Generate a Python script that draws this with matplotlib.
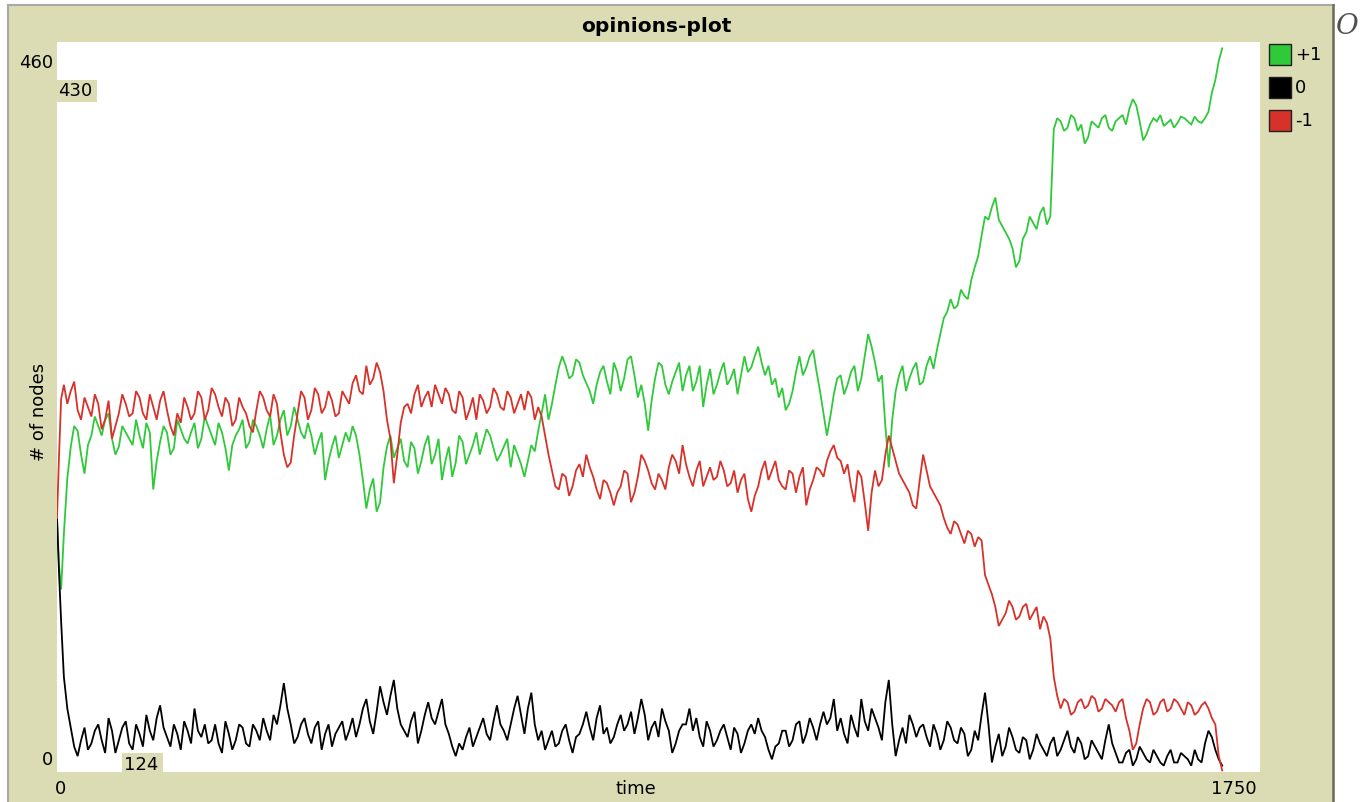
import numpy as np
import matplotlib.pyplot as plt
from matplotlib.patches import Rectangle
from matplotlib.lines import Line2D

# ---- data ----
# samples on the 10-tick grid (plus the start-up transient and the last tick)
time_main = np.concatenate([[0, 3, 6], np.arange(10, 1700, 10), [1695]])
# in-between samples at ticks 15, 25, ... 1685
time_mid = np.arange(15, 1690, 10)

plus_one_main = [
    160, 130, 115,
    150, 205, 215, 188, 212, 218, 222, 210, 205, 214,
    206, 212, 220, 178, 208, 214, 204, 216, 207, 220,
    210, 218, 206, 214, 190, 212, 222, 208, 218, 204,
    225, 212, 228, 218, 222, 210, 212, 208, 184, 205,
    198, 214, 218, 200, 166, 185, 170, 205, 198, 210,
    192, 204, 196, 212, 200, 184, 205, 195, 208, 200,
    214, 208, 212, 196, 205, 192, 200, 186, 206, 215,
    238, 232, 255, 256, 250, 258, 245, 232, 252, 246,
    258, 240, 260, 250, 244, 215, 248, 256, 238, 252,
    240, 256, 246, 230, 254, 244, 258, 248, 238, 262,
    255, 268, 250, 244, 236, 228, 240, 262, 255, 266,
    240, 212, 238, 250, 244, 256, 248, 276, 258, 250,
    192, 240, 256, 248, 258, 246, 262, 266, 286, 298,
    294, 300, 310, 325, 350, 356, 348, 340, 330, 322,
    340, 346, 352, 345, 405, 410, 406, 412, 408, 400,
    408, 412, 406, 410, 414, 418, 420, 398, 408, 410,
    407, 411, 409, 412, 408, 410, 412, 428, 448,
    456,
]
plus_one_mid = [
    185, 218, 200, 206, 224, 212, 226, 200, 218, 210,
    222, 204, 214, 196, 218, 200, 222, 210, 214, 204,
    224, 212, 220, 204, 206, 216, 204, 222, 212, 216,
    206, 222, 212, 230, 214, 220, 200, 214, 196, 212,
    206, 208, 212, 184, 178, 164, 192, 212, 204, 196,
    208, 188, 206, 194, 210, 196, 186, 212, 194, 206,
    200, 216, 204, 200, 210, 206, 194, 196, 202, 226,
    222, 244, 262, 248, 260, 250, 240, 244, 256, 238,
    252, 248, 262, 236, 232, 234, 258, 244, 246, 258,
    250, 240, 256, 244, 238, 252, 244, 254, 250, 252,
    262, 258, 256, 248, 242, 232, 252, 250, 262, 252,
    226, 224, 248, 238, 252, 240, 262, 268, 246, 218,
    222, 250, 240, 254, 244, 256, 254, 276, 290, 292,
    304, 298, 318, 338, 348, 362, 344, 336, 318, 336,
    350, 342, 356, 350, 412, 404, 414, 404, 396, 410,
    406, 414, 404, 412, 408, 424, 410, 402, 412, 414,
    409, 406, 413, 410, 413, 409, 416, 436,
]

zero_main = [
    160, 125, 95,
    60, 28, 10, 28, 18, 30, 12, 26, 20, 32,
    14, 24, 36, 20, 42, 22, 30, 14, 26, 40,
    22, 18, 30, 12, 24, 20, 28, 16, 26, 34,
    20, 30, 56, 30, 22, 34, 18, 32, 24, 16,
    28, 20, 34, 30, 46, 24, 54, 36, 58, 30,
    22, 38, 26, 44, 30, 46, 24, 10, 14, 28,
    22, 34, 20, 42, 26, 30, 48, 24, 50, 20,
    14, 26, 18, 30, 12, 24, 38, 20, 42, 28,
    22, 36, 30, 24, 46, 20, 32, 40, 26, 18,
    30, 40, 34, 16, 26, 20, 30, 14, 24, 18,
    30, 34, 22, 8, 18, 26, 20, 32, 24, 28,
    30, 30, 46, 34, 18, 28, 46, 26, 34, 20,
    58, 10, 28, 36, 22, 30, 16, 24, 20, 28,
    18, 24, 14, 20, 50, 6, 24, 16, 22, 12,
    20, 14, 18, 10, 22, 14, 26, 12, 18, 10,
    16, 8, 30, 12, 6, 14, 8, 12, 6, 10,
    4, 14, 6, 10, 4, 8, 18, 22, 8,
    4,
]
zero_mid = [
    40, 16, 20, 14, 26, 20, 34, 12, 28, 18,
    30, 16, 26, 34, 28, 16, 24, 32, 18, 26,
    30, 20, 18, 32, 14, 30, 18, 30, 20, 26,
    36, 42, 40, 18, 30, 24, 28, 14, 30, 24,
    32, 26, 22, 40, 32, 38, 44, 48, 40, 26,
    32, 18, 36, 34, 38, 30, 16, 18, 22, 16,
    28, 24, 32, 30, 20, 40, 36, 40, 30, 26,
    20, 16, 26, 20, 22, 30, 28, 34, 24, 18,
    30, 26, 38, 34, 36, 28, 22, 32, 12, 26,
    30, 26, 22, 32, 16, 26, 22, 28, 12, 26,
    24, 26, 14, 16, 26, 16, 30, 18, 34, 20,
    38, 34, 26, 24, 36, 22, 32, 40, 28, 44,
    30, 20, 18, 30, 28, 22, 30, 14, 32, 20,
    28, 10, 26, 36, 30, 16, 10, 28, 14, 22,
    8, 24, 14, 18, 10, 20, 16, 22, 8, 20,
    12, 20, 18, 6, 12, 4, 16, 8, 14, 6,
    10, 6, 12, 8, 14, 6, 26, 14,
]

minus_one_main = [
    160, 200, 235,
    244, 240, 228, 236, 224, 232, 222, 210, 226, 232,
    226, 236, 222, 230, 234, 228, 212, 220, 230, 226,
    236, 228, 238, 224, 232, 222, 230, 218, 228, 236,
    224, 232, 200, 195, 226, 236, 228, 238, 230, 234,
    226, 236, 245, 240, 256, 248, 252, 222, 182, 220,
    232, 238, 230, 240, 244, 232, 238, 226, 236, 228,
    222, 234, 230, 238, 228, 236, 232, 228, 236, 230,
    212, 190, 178, 186, 180, 194, 200, 186, 172, 182,
    168, 180, 188, 176, 200, 190, 178, 184, 192, 196,
    206, 186, 190, 180, 192, 186, 190, 182, 176, 188,
    164, 180, 196, 190, 184, 178, 188, 186, 168, 184,
    190, 196, 206, 196, 194, 170, 186, 152, 190, 184,
    212, 196, 184, 176, 166, 200, 180, 172, 160, 150,
    156, 144, 150, 148, 124, 112, 92, 100, 104, 98,
    106, 100, 90, 94, 60, 40, 44, 38, 46, 42,
    46, 40, 44, 38, 46, 26, 18, 40, 44, 38,
    46, 40, 44, 36, 42, 38, 44, 34, 10,
    1,
]
minus_one_mid = [
    232, 246, 222, 230, 238, 216, 234, 218, 238, 224,
    240, 226, 238, 222, 240, 218, 226, 236, 222, 240,
    222, 242, 230, 236, 218, 236, 226, 214, 240, 228,
    238, 214, 192, 212, 240, 222, 242, 226, 240, 224,
    240, 232, 250, 238, 244, 258, 240, 210, 200, 230,
    226, 244, 236, 230, 238, 242, 228, 240, 222, 236,
    238, 226, 242, 230, 240, 226, 238, 240, 222, 224,
    200, 180, 188, 174, 190, 186, 192, 178, 184, 176,
    176, 190, 170, 186, 196, 182, 188, 178, 200, 188,
    194, 180, 196, 186, 184, 196, 180, 190, 184, 172,
    174, 190, 184, 196, 180, 190, 176, 192, 178, 192,
    186, 202, 198, 188, 180, 190, 170, 176, 180, 200,
    204, 188, 180, 168, 184, 190, 176, 168, 154, 158,
    150, 152, 142, 146, 118, 104, 96, 108, 96, 104,
    96, 104, 98, 84, 48, 46, 36, 44, 40, 48,
    38, 46, 42, 44, 34, 14, 30, 46, 36, 44,
    38, 46, 40, 44, 36, 42, 40, 30,
]

pen_names = ["+1", "0", "-1"]
x_max = 1750
y_max = 460
cursor_y = "430"
cursor_x = "124"

GREEN = "#2fc93a"
RED = "#d7322a"
BLACK = "#000000"
BEIGE = "#dcdcb4"
pen_colors = [GREEN, BLACK, RED]

# put the two sets of samples in tick order
time = np.concatenate([time_main, time_mid])
order = np.argsort(time, kind="stable")
time = time[order]
series = [
    np.concatenate([plus_one_main, plus_one_mid])[order],
    np.concatenate([zero_main, zero_mid])[order],
    np.concatenate([minus_one_main, minus_one_mid])[order],
]

W, H = 1367, 802


def fx(x):
    return x / W


def fy(y):
    return 1 - y / H


fig = plt.figure(figsize=(W / 100, H / 100), dpi=100)
fig.patch.set_facecolor("white")

# widget panel and its border
fig.patches.append(Rectangle((fx(9), 0), fx(1333) - fx(9), fy(6),
                             transform=fig.transFigure, facecolor=BEIGE,
                             edgecolor="none", zorder=-10))
fig.add_artist(Line2D([fx(8), fx(1334)], [fy(5), fy(5)], color="#a8a8a8", lw=1.5))
fig.add_artist(Line2D([fx(8), fx(8)], [fy(5), 0], color="#a8a8a8", lw=1.5))
fig.add_artist(Line2D([fx(1333), fx(1333)], [fy(5), 0], color="#6a6a5a", lw=1.8))

# plotting area
ax = fig.add_axes([fx(57), fy(772), fx(1260) - fx(57), fy(42) - fy(772)])
ax.set_facecolor("white")
for s in ax.spines.values():
    s.set_visible(False)
ax.set_xticks([])
ax.set_yticks([])
ax.set_xlim(0, x_max)
ax.set_ylim(0, y_max)

for vals, col in zip(series, pen_colors):
    ax.plot(time, vals, color=col, lw=1.3, solid_joinstyle="miter")

fs = 13
fig.text(fx(656), fy(27), "opinions-plot", weight="bold", fontsize=14.5,
         ha="center", va="center")
fig.text(fx(53), fy(63), str(y_max), fontsize=fs, ha="right", va="center")
fig.text(fx(53), fy(760), "0", fontsize=fs, ha="right", va="center")
fig.text(fx(55), fy(789), "0", fontsize=fs, ha="left", va="center")
fig.text(fx(1257), fy(789), str(x_max), fontsize=fs, ha="right", va="center")
fig.text(fx(636), fy(789), "time", fontsize=fs, ha="center", va="center")
fig.text(fx(39), fy(412), "# of nodes", fontsize=fs, rotation=90,
         ha="center", va="center")

# cursor readouts
fig.patches.append(Rectangle((fx(56), fy(102)), fx(97) - fx(56), fy(80) - fy(102),
                             transform=fig.transFigure, facecolor=BEIGE,
                             edgecolor="none", zorder=3))
fig.text(fx(58), fy(91), cursor_y, fontsize=fs, ha="left", va="center", zorder=4)
fig.patches.append(Rectangle((fx(122), fy(775)), fx(163) - fx(122), fy(753) - fy(775),
                             transform=fig.transFigure, facecolor=BEIGE,
                             edgecolor="none", zorder=3))
fig.text(fx(124), fy(765), cursor_x, fontsize=fs, ha="left", va="center", zorder=4)

# legend
for i, (name, col) in enumerate(zip(pen_names, pen_colors)):
    top = 44 + i * 33
    fig.patches.append(Rectangle((fx(1269), fy(top + 21)), fx(1291) - fx(1269),
                                 fy(top) - fy(top + 21), transform=fig.transFigure,
                                 facecolor=col, edgecolor="#202020", lw=1.0))
    fig.text(fx(1295), fy(top + 11), name, fontsize=fs, ha="left", va="center")

fig.text(fx(1347), fy(27), "O", family="DejaVu Serif", style="italic",
         fontsize=20, color="#505050", ha="center", va="center")

fig.savefig("out.png", dpi=100)
